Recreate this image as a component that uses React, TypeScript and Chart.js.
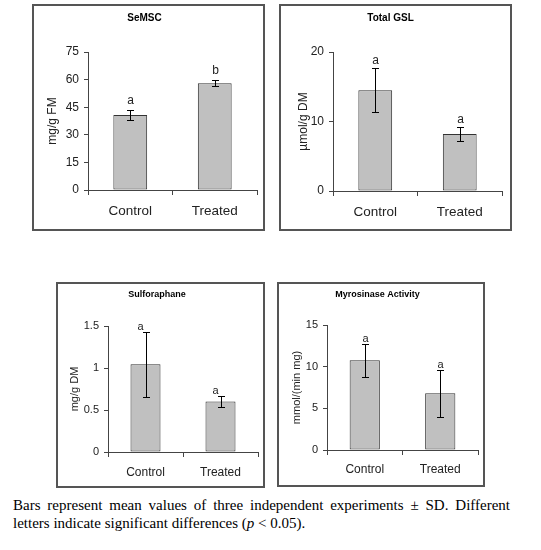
import { useEffect, useRef } from "react";
import { Chart, registerables } from "chart.js";

Chart.register(...registerables);

const categories = ["Control", "Treated"];

const semscMeans = [40.8, 58.0];
const semscSd = [2.7, 1.7];
const semscLetters = ["a", "b"];
const semscTicks = [0, 15, 30, 45, 60, 75];

const gslMeans = [14.5, 8.2];
const gslSd = [3.15, 0.97];
const gslLetters = ["a", "a"];
const gslTicks = [0, 10, 20];

const sulfMeans = [1.045, 0.6];
const sulfSd = [0.385, 0.065];
const sulfLetters = ["a", "a"];
const sulfTicks = [0, 0.5, 1, 1.5];

const myroMeans = [10.76, 6.8];
const myroSd = [1.95, 2.8];
const myroLetters = ["a", "a"];
const myroTicks = [0, 5, 10, 15];

const SANS = "'Liberation Sans', Arial, sans-serif";
const INK = "#222";
const AXIS = "#444";

type PanelProps = {
  title: string;
  yTitle: string;
  means: number[];
  sd: number[];
  letters: string[];
  ticks: number[];
  box: { left: number; top: number; w: number; h: number };
  area: { left: number; right: number; top: number; bottom: number };
  fonts: { title: number; tick: number; label: number; yTitle: number; letter: number };
  titleY: number;
  yTitleX: number;
  labelPad: number;
  letterGap: number;
  letterDx: number;
};

function Panel(p: PanelProps) {
  const canvasRef = useRef<HTMLCanvasElement>(null);
  const chartRef = useRef<Chart | null>(null);

  useEffect(() => {
    const el = canvasRef.current;
    if (!el) return;
    chartRef.current?.destroy();

    const titleLh = p.fonts.title * 1.2;
    const titleTop = p.titleY - titleLh / 2;
    const yTitleLh = p.fonts.yTitle * 1.2;

    // error bars and significance letters, placed with the chart's own y scale
    const errorBars = {
      id: "errorBars",
      afterDatasetsDraw(chart: Chart) {
        const { ctx } = chart;
        const y = chart.scales.y;
        const meta = chart.getDatasetMeta(0);
        ctx.save();
        ctx.strokeStyle = "#000";
        ctx.lineWidth = 1;
        meta.data.forEach((bar: any, i: number) => {
          const x = Math.round(bar.x) + 0.5;
          const hi = Math.round(y.getPixelForValue(p.means[i] + p.sd[i])) + 0.5;
          const lo = Math.round(y.getPixelForValue(p.means[i] - p.sd[i])) + 0.5;
          ctx.beginPath();
          ctx.moveTo(x, hi);
          ctx.lineTo(x, lo);
          ctx.moveTo(x - 3.5, hi);
          ctx.lineTo(x + 3.5, hi);
          ctx.moveTo(x - 3.5, lo);
          ctx.lineTo(x + 3.5, lo);
          ctx.stroke();
          ctx.fillStyle = INK;
          ctx.font = `${p.fonts.letter}px ${SANS}`;
          ctx.textAlign = "center";
          ctx.textBaseline = "alphabetic";
          ctx.fillText(p.letters[i], x + p.letterDx, hi - p.letterGap);
        });
        ctx.restore();
      },
    };

    chartRef.current = new Chart(el, {
      type: "bar",
      data: {
        labels: categories,
        datasets: [
          {
            data: p.means,
            backgroundColor: "#c0c0c0",
            borderColor: "#333",
            borderWidth: 1,
            borderSkipped: false,
            barPercentage: 0.4,
            categoryPercentage: 1,
          },
        ],
      },
      options: {
        animation: false,
        responsive: true,
        maintainAspectRatio: false,
        layout: { padding: { left: 0, top: 0, bottom: 0, right: p.box.w - p.area.right } },
        plugins: {
          legend: { display: false },
          tooltip: { enabled: false },
          title: {
            display: true,
            text: p.title,
            color: "#000",
            font: { family: SANS, size: p.fonts.title, weight: "bold", lineHeight: 1.2 },
            padding: { top: titleTop, bottom: p.area.top - titleTop - titleLh },
          },
        },
        scales: {
          x: {
            offset: true,
            grid: { offset: true, drawOnChartArea: false, tickLength: 5, color: AXIS },
            border: { display: true, color: AXIS },
            ticks: { color: INK, font: { family: SANS, size: p.fonts.label }, padding: p.labelPad },
            afterFit: (s: any) => {
              s.height = p.box.h - p.area.bottom;
            },
          },
          y: {
            min: 0,
            max: p.ticks[p.ticks.length - 1],
            ticks: {
              stepSize: p.ticks[1] - p.ticks[0],
              color: INK,
              font: { family: SANS, size: p.fonts.tick },
              padding: 5,
              callback: (v: any) => String(+v),
            },
            grid: { drawOnChartArea: false, tickLength: 4, color: AXIS },
            border: { display: true, color: AXIS },
            title: {
              display: true,
              text: p.yTitle,
              color: INK,
              font: { family: SANS, size: p.fonts.yTitle, lineHeight: 1.2 },
              padding: { top: p.yTitleX - yTitleLh / 2, bottom: 0 },
            },
            afterFit: (s: any) => {
              s.width = p.area.left;
            },
          },
        },
      },
      plugins: [errorBars],
    } as any);

    return () => chartRef.current?.destroy();
  }, []);

  const { left, top, w, h } = p.box;
  return (
    <>
      <div style={{ position: "absolute", left, top, width: w, height: h }}>
        <canvas ref={canvasRef} />
      </div>
      <div
        style={{
          position: "absolute",
          left,
          top,
          width: w,
          height: h,
          boxSizing: "border-box",
          border: "2px solid #555",
          pointerEvents: "none",
        }}
      />
    </>
  );
}

const bigFonts = { title: 10, tick: 12, label: 13.5, yTitle: 12, letter: 12 };
const smallFonts = { title: 9, tick: 11, label: 12, yTitle: 11, letter: 11 };

export default function App() {
  return (
    <div style={{ position: "absolute", left: 0, top: 0, width: 541, height: 550, background: "#fff" }}>
      <Panel
        title="SeMSC"
        yTitle="mg/g FM"
        means={semscMeans}
        sd={semscSd}
        letters={semscLetters}
        ticks={semscTicks}
        box={{ left: 32, top: 4, w: 233, h: 227 }}
        area={{ left: 56, right: 225, top: 48, bottom: 186 }}
        fonts={bigFonts}
        titleY={14}
        yTitleX={21}
        labelPad={8}
        letterGap={7}
        letterDx={0}
      />
      <Panel
        title="Total GSL"
        yTitle="µmol/g DM"
        means={gslMeans}
        sd={gslSd}
        letters={gslLetters}
        ticks={gslTicks}
        box={{ left: 279, top: 4, w: 233, h: 227 }}
        area={{ left: 54, right: 223, top: 48, bottom: 187 }}
        fonts={bigFonts}
        titleY={14}
        yTitleX={25}
        labelPad={8}
        letterGap={5}
        letterDx={0}
      />
      <Panel
        title="Sulforaphane"
        yTitle="mg/g DM"
        means={sulfMeans}
        sd={sulfSd}
        letters={sulfLetters}
        ticks={sulfTicks}
        box={{ left: 56, top: 282, w: 209, h: 206 }}
        area={{ left: 52, right: 202, top: 44, bottom: 170 }}
        fonts={smallFonts}
        titleY={13}
        yTitleX={19}
        labelPad={8}
        letterGap={3}
        letterDx={-6}
      />
      <Panel
        title="Myrosinase Activity"
        yTitle="mmol/(min mg)"
        means={myroMeans}
        sd={myroSd}
        letters={myroLetters}
        ticks={myroTicks}
        box={{ left: 277, top: 282, w: 208, h: 205 }}
        area={{ left: 50, right: 201, top: 43, bottom: 168 }}
        fonts={smallFonts}
        titleY={13}
        yTitleX={20}
        labelPad={7}
        letterGap={3}
        letterDx={0}
      />
      <div
        style={{
          position: "absolute",
          left: 13,
          top: 496,
          width: 497,
          fontFamily: "'Liberation Serif', 'Times New Roman', serif",
          fontSize: 15,
          lineHeight: "18px",
          color: "#000",
        }}
      >
        <div style={{ textAlign: "justify", textAlignLast: "justify", whiteSpace: "nowrap" as any }}>
          Bars represent mean values of three independent experiments ± SD. Different
        </div>
        <div>
          letters indicate significant differences (<i>p</i> &lt; 0.05).
        </div>
      </div>
    </div>
  );
}
